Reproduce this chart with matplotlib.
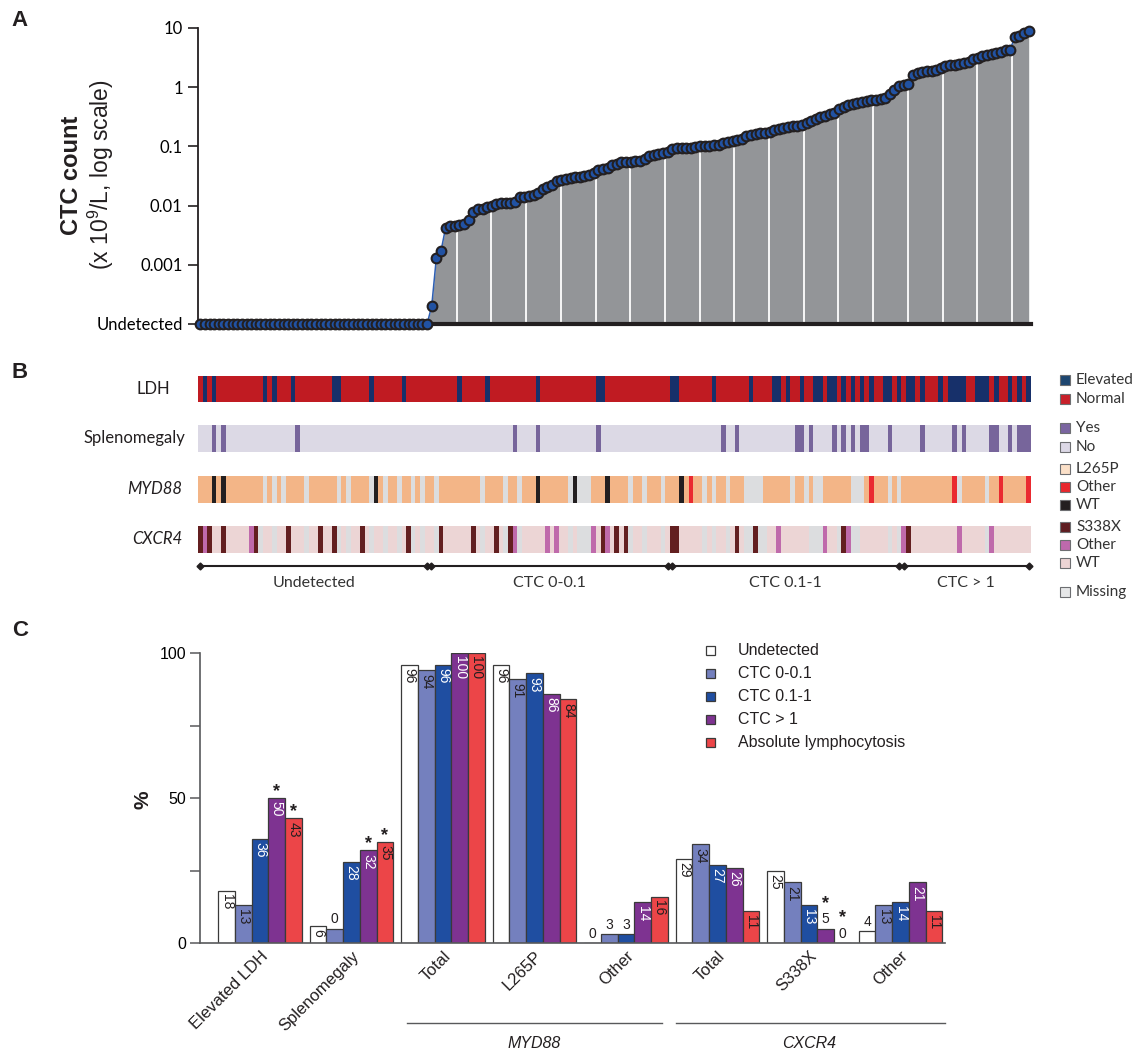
import numpy as np
import matplotlib
matplotlib.use("Agg")
import matplotlib.pyplot as plt
from matplotlib.colors import to_rgb
from matplotlib.patches import Rectangle
from matplotlib.ticker import NullLocator
from matplotlib.transforms import blended_transform_factory

plt.rcParams["font.family"] = ["Liberation Sans", "DejaVu Sans"]
plt.rcParams["mathtext.fontset"] = "custom"
plt.rcParams["mathtext.rm"] = "Liberation Sans"

W, H = 1137, 1052
SANS2 = "Lato"          # stands in for the Calibri look of panels A/B
INK = "#231f20"

# ---------------- panel A: CTC count per patient (x10^9/L), sorted -------------
n_undetected = 50
ctc_detected = [
    0.0002, 0.0013, 0.0017, 0.0042, 0.0045, 0.0046, 0.0047, 0.0048, 0.0058, 0.0079,
    0.0087, 0.0089, 0.0093, 0.0098, 0.0107, 0.011, 0.011, 0.0112, 0.0117, 0.0138,
    0.0141, 0.0145, 0.0151, 0.0166, 0.0191, 0.0209, 0.0224, 0.0263, 0.0269, 0.0282,
    0.0295, 0.0302, 0.0309, 0.0316, 0.0331, 0.0355, 0.0398, 0.0417, 0.0437, 0.0479,
    0.0513, 0.0537, 0.055, 0.055, 0.0562, 0.0575, 0.0617, 0.0676, 0.0708, 0.0741,
    0.0759, 0.0794, 0.0912, 0.0933, 0.0933, 0.0955, 0.0955, 0.0977, 0.100, 0.102,
    0.102, 0.105, 0.107, 0.112, 0.117, 0.123, 0.126, 0.132, 0.148, 0.158,
    0.162, 0.166, 0.170, 0.178, 0.191, 0.200, 0.204, 0.214, 0.219, 0.224,
    0.234, 0.251, 0.269, 0.288, 0.309, 0.331, 0.355, 0.372, 0.427, 0.468,
    0.501, 0.525, 0.550, 0.562, 0.589, 0.603, 0.617, 0.631, 0.661, 0.759,
    0.891, 1.05, 1.10, 1.12, 1.58, 1.74, 1.82, 1.86, 1.91, 1.95,
    2.09, 2.24, 2.34, 2.40, 2.51, 2.57, 2.69, 2.95, 3.16, 3.31,
    3.47, 3.63, 3.80, 3.98, 4.17, 4.27, 7.08, 7.24, 8.13, 8.91,
]
UNDET = 1e-4
ytick_vals = [1e-4, 1e-3, 1e-2, 1e-1, 1, 10]
ytick_labels = ["Undetected", "0.001", "0.01", "0.1", "1", "10"]

# ---------------- panel B: per-patient annotations (column indices) ------------
group_names = ["Undetected", "CTC 0-0.1", "CTC 0.1-1", "CTC > 1"]
group_sizes = [50, 52, 50, 28]

ldh_elevated = [1, 3, 14, 16, 20, 29, 30, 37, 44, 56, 62, 73, 86, 87, 102, 103,
                111, 119, 124, 125, 127, 130, 133, 134, 136, 137, 139, 141, 143,
                145, 148, 149, 151, 153, 154, 156, 160, 162, 163, 164, 165, 168,
                169, 170, 172, 175, 177, 179]
spleno_yes = [3, 5, 21, 68, 73, 86, 113, 116, 129, 130, 132, 137, 139, 141, 143,
              144, 149, 156, 163, 165, 171, 172, 175, 177, 178, 179]
myd88_wt = [3, 5, 38, 73, 81, 88, 104]
myd88_other = [106, 145, 163, 173, 179]
myd88_missing = [14, 16, 18, 23, 30, 32, 37, 40, 43, 46, 48, 51, 61, 66, 69, 80,
                 82, 83, 84, 93, 96, 100, 109, 111, 114, 118, 119, 120, 121, 128,
                 131, 133, 134, 141, 142, 143, 149, 151, 164, 170]
cxcr4_s338x = [0, 2, 5, 12, 19, 26, 29, 35, 45, 52, 59, 64, 67, 87, 90, 92, 102,
               103, 116, 120, 139, 153]
cxcr4_other = [1, 11, 68, 75, 77, 85, 88, 125, 135, 140, 152, 164, 171]
cxcr4_missing = [13, 16, 23, 30, 32, 37, 40, 43, 46, 48, 51, 61, 66, 69, 80, 82,
                 83, 84, 93, 96, 100, 109, 111, 114, 118, 119, 121, 122, 132, 133,
                 134, 138, 141, 142, 149, 151, 170]

# ---------------- panel C: % of patients per category ----------------------------
categories = ["Elevated LDH", "Splenomegaly", "Total", "L265P", "Other",
              "Total", "S338X", "Other"]
series_names = ["Undetected", "CTC 0-0.1", "CTC 0.1-1", "CTC > 1",
                "Absolute lymphocytosis"]
pct_undetected = [18, 6, 96, 96, 0, 29, 25, 4]
pct_ctc_low = [13, 5, 94, 91, 3, 34, 21, 13]
pct_ctc_mid = [36, 28, 96, 93, 3, 27, 13, 14]
pct_ctc_high = [50, 32, 100, 86, 14, 26, 5, 21]
pct_lymph = [43, 35, 100, 84, 16, 11, 0, 11]
label_override = {(1, 1): "0"}          # printed label differs from bar height
starred = [(0, 3), (0, 4), (1, 3), (1, 4), (6, 3), (6, 4)]


def box(l, t, r, b):
    return [l / W, 1 - b / H, (r - l) / W, (b - t) / H]


fig = plt.figure(figsize=(W / 100, H / 100), dpi=100)
ov = fig.add_axes([0, 0, 1, 1])
ov.set_xlim(0, W); ov.set_ylim(H, 0); ov.axis("off")
ov.set_zorder(10)

for letter, y in (("A", 20), ("B", 373), ("C", 630)):
    ov.text(20, y, letter, fontsize=16, weight="bold", ha="center", va="center", color=INK)

# ================================ panel A ==========================================
vals = np.array([UNDET] * n_undetected + ctc_detected)
n = len(vals)
idx = np.arange(n)

axA = fig.add_axes(box(198, 28, 1031, 324))
axA.set_yscale("log")
axA.fill_between(idx[n_undetected - 1:], UNDET, vals[n_undetected - 1:],
                 color="#939598", lw=0, zorder=1)
seams = np.arange(55.4, n - 1, 7.5)
axA.vlines(seams, UNDET, 10 ** np.interp(seams, idx, np.log10(vals)),
           colors="white", lw=1.3, zorder=2)
axA.plot(idx, vals, "-", color="#2d5fb4", lw=1.1, zorder=3, clip_on=False)
axA.plot(idx, vals, "o", ms=7, mfc="#2152a3", mec=INK, mew=1.5, zorder=4, clip_on=False)
axA.set_xlim(-0.5, n - 0.5)
axA.set_ylim(UNDET, 10)
axA.set_yticks(ytick_vals, ytick_labels)
axA.yaxis.set_minor_locator(NullLocator())
axA.set_xticks([])
for s in ("top", "right"):
    axA.spines[s].set_visible(False)
axA.spines["left"].set_color(INK); axA.spines["left"].set_linewidth(1.3)
axA.spines["bottom"].set_color(INK); axA.spines["bottom"].set_linewidth(3)
axA.tick_params(axis="y", length=7, width=1.2, color=INK, labelsize=12, pad=4)
for t in axA.get_yticklabels():
    t.set_fontfamily(SANS2)
ov.text(72, 175, "CTC count", rotation=90, fontsize=17, weight="bold",
        ha="center", va="center", color=INK)
ov.text(101, 175, "(x 10$^9$/L, log scale)", rotation=90, fontsize=16.5,
        ha="center", va="center", color=INK)

# ================================ panel B ==========================================
axB = fig.add_axes(box(198, 370, 1031, 600))
axB.axis("off")


def codes_for(*groups):
    c = np.zeros(n, dtype=int)
    for k, g in enumerate(groups, start=1):
        c[g] = k
    return c


rows = [
    ("LDH", "normal", codes_for(ldh_elevated), ["#c01b22", "#17306a"], 376, 402, 153),
    ("Splenomegaly", "normal", codes_for(spleno_yes), ["#dcd9e5", "#77659b"], 425, 452, 134),
    ("MYD88", "italic", codes_for(myd88_wt, myd88_other, myd88_missing),
     ["#f3b587", INK, "#ea2a30", "#dcdddf"], 476, 503, 155),
    ("CXCR4", "italic", codes_for(cxcr4_s338x, cxcr4_other, cxcr4_missing),
     ["#ecd5d5", "#631f20", "#bf6aab", "#dcdddf"], 526, 553, 157),
]
for name, style, codes, pal, top, bot, lx in rows:
    rgb = np.array([to_rgb(c) for c in pal])[codes][None, :, :]
    axB.imshow(rgb, extent=(-0.5, n - 0.5, bot, top), aspect="auto",
               interpolation="nearest")
    ov.text(lx, (top + bot) / 2, name, style=style, fontsize=12, family=SANS2,
            ha="center", va="center", color=INK)
axB.set_xlim(-0.5, n - 0.5)
axB.set_ylim(600, 370)

starts = np.cumsum([0] + group_sizes[:-1])
ends = np.cumsum(group_sizes) - 1
for s, e, name in zip(starts, ends, group_names):
    axB.plot([s - 0.5 + 0.45, e + 0.5 - 0.45], [566, 566], color=INK, lw=1.5,
             marker="D", ms=3.5, clip_on=False)
    axB.text((s + e) / 2, 583, name, ha="center", va="center", fontsize=11.5,
             family=SANS2, color="#333333")

legB = [("Elevated", "#1d4670", 380), ("Normal", "#c8202a", 399),
        ("Yes", "#7a65a0", 428), ("No", "#dcd8e6", 447),
        ("L265P", "#fbe0c8", 469), ("Other", "#e8282e", 487), ("WT", INK, 505),
        ("S338X", "#5e1d21", 527), ("Other", "#be69ad", 545), ("WT", "#ecd4d4", 563),
        ("Missing", "#e6e7e8", 592)]
for lab, col, y in legB:
    ov.add_patch(Rectangle((1060, y - 5), 10, 10, facecolor=col, edgecolor="#6d6e71", lw=0.8))
    ov.text(1076, y, lab, fontsize=11, family=SANS2, ha="left", va="center", color="#333333")

# ================================ panel C ==========================================
axC = fig.add_axes(box(200, 653, 945, 943))
pcts = [pct_undetected, pct_ctc_low, pct_ctc_mid, pct_ctc_high, pct_lymph]
bar_cols = ["#ffffff", "#7480be", "#1f4ea1", "#7e3391", "#ec4548"]
txt_cols = [INK, INK, "white", "white", INK]
w = 0.1825
xg = np.arange(len(categories))
for k, (pv, bc, tc) in enumerate(zip(pcts, bar_cols, txt_cols)):
    xs = xg + (k - 2) * w
    axC.bar(xs, pv, width=w, color=bc, edgecolor="#3a3a3a", lw=0.9, zorder=2)
    for i, (x, v) in enumerate(zip(xs, pv)):
        lab = label_override.get((i, k), str(v))
        if v > 5.5:
            axC.text(x, v - 1.2, lab, rotation=-90, ha="center", va="top",
                     fontsize=10, color=tc, zorder=3)
            top = v
        else:
            axC.text(x, v + 0.8, lab, ha="center", va="bottom", fontsize=10,
                     color=INK, zorder=3)
            top = v + 6.5
        if (i, k) in starred:
            axC.text(x, top + 2.2, "*", ha="center", va="center", fontsize=13,
                     weight="bold", color=INK)

axC.set_xlim(-0.656, 7.486)
axC.set_ylim(0, 100)
axC.set_yticks([0, 25, 50, 75, 100], ["0", "", "50", "", "100"])
axC.set_xticks(xg)
axC.set_xticklabels(categories, rotation=45, ha="right", va="top",
                    rotation_mode="anchor", fontsize=12, color=INK)
axC.tick_params(axis="x", length=0, pad=4)
axC.tick_params(axis="y", length=7, width=1.1, color="#58595b", labelsize=11.5, pad=3)
for s in ("top", "right"):
    axC.spines[s].set_visible(False)
for s in ("left", "bottom"):
    axC.spines[s].set_color("#58595b"); axC.spines[s].set_linewidth(1.2)
ov.text(143, 800, "%", rotation=90, fontsize=15, weight="bold",
        ha="center", va="center", color=INK)

tr = blended_transform_factory(axC.transData, axC.transAxes)
for g0, g1, name, pad_l, pad_r in ((2, 4, "MYD88", 0.06, 0.06), (5, 7, "CXCR4", 0.0, -0.03)):
    axC.plot([g0 - 2.5 * w + pad_l, g1 + 2.5 * w - pad_r], [-0.276, -0.276],
             transform=tr, color="#58595b", lw=1, clip_on=False)
    axC.text((g0 + g1) / 2, -0.345, name, transform=tr, style="italic",
             fontsize=11.5, ha="center", va="center", color=INK)

leg_y0, leg_dy = 650.7, 23
for k, (name, bc) in enumerate(zip(series_names, bar_cols)):
    y = leg_y0 + k * leg_dy
    ov.add_patch(Rectangle((706, y - 4.5), 9, 9, facecolor=bc, edgecolor="#3a3a3a", lw=0.9))
    ov.text(738, y, name, fontsize=11.5, ha="left", va="center", color=INK)

fig.savefig("out.png", dpi=100)
